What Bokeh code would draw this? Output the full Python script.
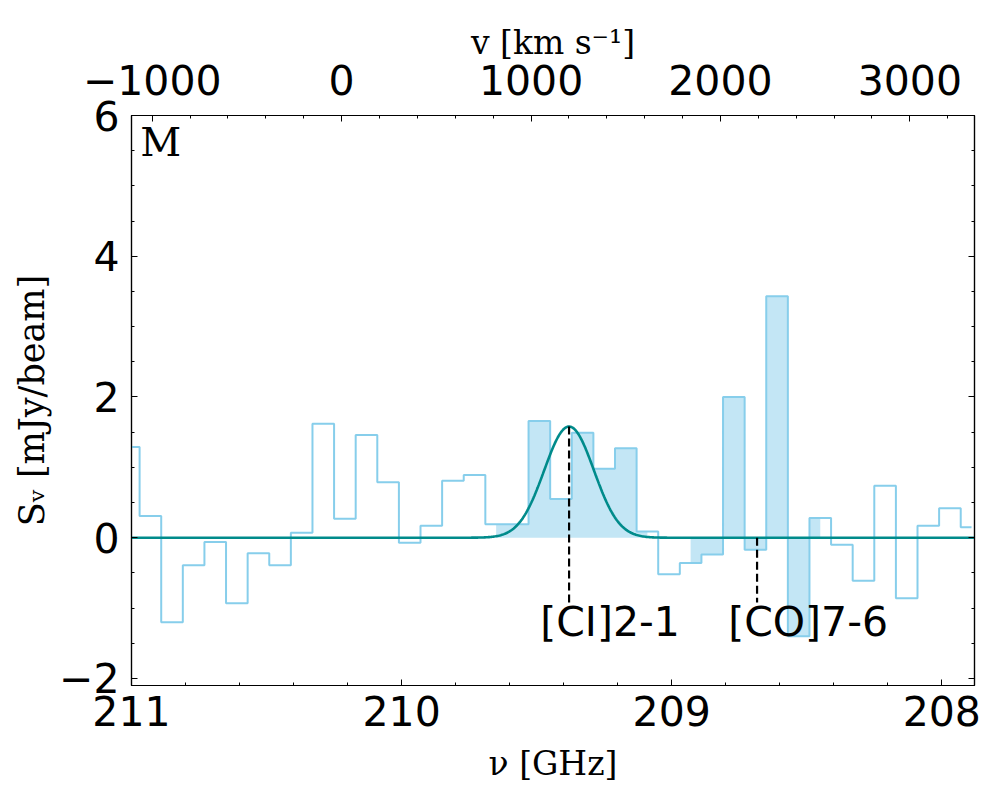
import numpy as np
from bokeh.plotting import figure
from bokeh.models import Range1d, LinearAxis, SingleIntervalTicker, ColumnDataSource, Label
from bokeh.core.properties import value
from bokeh.embed import file_html
from bokeh.resources import INLINE

# ---------------- data ----------------
FREQ_CENTERS = [211.01, 210.93, 210.85, 210.77, 210.69, 210.61, 210.53, 210.45,
                210.37, 210.29, 210.21, 210.13, 210.05, 209.97, 209.89, 209.81,
                209.73, 209.65, 209.57, 209.49, 209.41, 209.33, 209.25, 209.17,
                209.09, 209.01, 208.93, 208.85, 208.77, 208.69, 208.61, 208.53,
                208.45, 208.37, 208.29, 208.21, 208.13, 208.05, 207.97, 207.89]
FLUX = [1.29, 0.31, -1.20, -0.39, -0.06, -0.93, -0.22, -0.39,
        0.07, 1.62, 0.27, 1.46, 0.79, -0.07, 0.17, 0.81,
        0.89, 0.19, 0.19, 1.66, 0.55, 1.49, 0.98, 1.27,
        0.09, -0.52, -0.36, -0.24, 2.00, -0.17, 3.43, -1.40,
        0.28, -0.10, -0.61, 0.74, -0.86, 0.17, 0.42, 0.15]
FILL_RANGES = [(17, 24), (26, 32)]   # channel index ranges that are shaded

GAUSS_AMP = 1.58
GAUSS_CENTER = 209.38
GAUSS_SIGMA = 0.092

LINE_NAMES = ["[CI]2-1", "[CO]7-6"]
LINE_FREQS = [209.38, 208.684]
LINE_BOTTOM = -0.92
LABEL_Y = -1.20
LABEL_SHIFT = 0.107

NU0 = 210.222
C_KMS = 299792.458
X_LIM = (211.0, 207.879)
Y_LIM = (-2.1, 6.0)

PANEL_LABEL = "M"

# ---------------- figure ----------------
v_lim = (C_KMS * (NU0 - X_LIM[0]) / NU0, C_KMS * (NU0 - X_LIM[1]) / NU0)

p = figure(width=990, height=785, output_backend="svg", toolbar_location=None,
           x_range=Range1d(*X_LIM), y_range=Range1d(*Y_LIM),
           min_border_left=131, min_border_right=16, min_border_top=115, min_border_bottom=100)
p.extra_x_ranges = {"vel": Range1d(*v_lim)}
p.xgrid.visible = False
p.ygrid.visible = False
p.outline_line_color = "black"
p.outline_line_width = 1.2
p.background_fill_color = "white"
p.border_fill_color = "white"

TICK_FONT = "DejaVu Sans"
LABEL_FONT = "DejaVu Serif"

def style_axis(ax, interval, nminor, show_labels=True):
    ax.ticker = SingleIntervalTicker(interval=interval, num_minor_ticks=nminor)
    ax.major_tick_in = 6
    ax.major_tick_out = 0
    ax.minor_tick_in = 3
    ax.minor_tick_out = 0
    ax.axis_line_width = 1.2
    ax.major_tick_line_width = 1.0
    ax.minor_tick_line_width = 1.0
    ax.major_label_text_font = TICK_FONT
    ax.major_label_text_font_size = "41px" if show_labels else "0px"
    ax.major_label_text_color = "black" if show_labels else None
    ax.axis_label_text_font = LABEL_FONT
    ax.axis_label_text_font_style = "normal"
    ax.axis_label_text_font_size = "33px"
    ax.axis_label_text_color = "black"

xb = p.xaxis[0]
style_axis(xb, 1, 5)
xb.axis_label = "ν [GHz]"
xb.major_label_standoff = 10
xb.axis_label_standoff = 15

yl = p.yaxis[0]
style_axis(yl, 2, 4)
yl.axis_label = "Sᵥ [mJy/beam]"
yl.axis_label_text_font_size = "35px"
yl.major_label_standoff = 12
yl.axis_label_standoff = 4
yl.major_label_overrides = {-2: "−2"}

xt = LinearAxis(x_range_name="vel")
style_axis(xt, 1000, 5)
xt.axis_label = "v [km s⁻¹]"
xt.major_label_standoff = 21
xt.axis_label_standoff = 0
xt.major_label_overrides = {-1000: "−1000"}
p.add_layout(xt, "above")

yr = LinearAxis()
style_axis(yr, 2, 4, show_labels=False)
yr.major_label_standoff = 0
p.add_layout(yr, "right")

# ---------------- glyphs ----------------
src = ColumnDataSource(dict(x=FREQ_CENTERS, y=FLUX))
for i0, i1 in FILL_RANGES:
    p.varea_step(x=FREQ_CENTERS[i0:i1 + 1], y1=[0.0] * (i1 - i0 + 1), y2=FLUX[i0:i1 + 1],
                 step_mode="center", fill_color="skyblue", fill_alpha=0.5)
p.step(x="x", y="y", source=src, mode="center", line_color="skyblue", line_width=2)

xg = np.linspace(X_LIM[0], X_LIM[1], 800)
yg = GAUSS_AMP * np.exp(-0.5 * ((xg - GAUSS_CENTER) / GAUSS_SIGMA) ** 2)
p.line(xg, yg, line_color="darkcyan", line_width=2.6)

line_tops = [float(GAUSS_AMP * np.exp(-0.5 * ((f - GAUSS_CENTER) / GAUSS_SIGMA) ** 2)) for f in LINE_FREQS]
p.segment(x0=LINE_FREQS, y0=line_tops, x1=LINE_FREQS, y1=[LINE_BOTTOM] * len(LINE_FREQS),
          line_color="black", line_width=2.2, line_dash="8 4")
p.text(x=[f + LABEL_SHIFT for f in LINE_FREQS], y=[LABEL_Y] * len(LINE_FREQS), text=LINE_NAMES,
       text_font=value(TICK_FONT), text_font_size="41px", text_align="left",
       text_baseline="alphabetic", text_color="black")

p.add_layout(Label(x=210.968, y=5.63, text=PANEL_LABEL, text_font=LABEL_FONT,
                   text_font_size="40px", text_align="left", text_baseline="alphabetic",
                   text_color="black"))

open("out.html", "w").write(file_html(p, INLINE))
